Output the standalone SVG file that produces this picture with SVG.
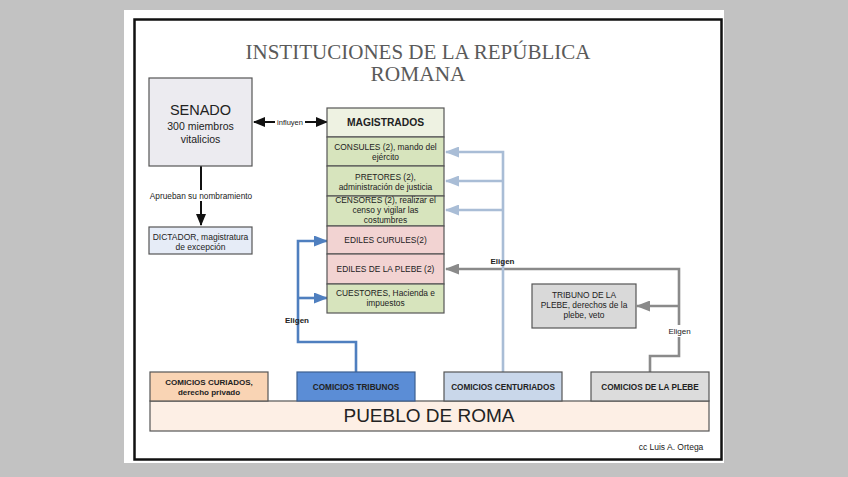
<svg xmlns="http://www.w3.org/2000/svg" width="848" height="477" viewBox="0 0 848 477">
<defs>
<style>
.t{font-family:"Liberation Sans",Arial,sans-serif;fill:#222;text-anchor:middle}
.b{font-weight:bold}
.box{stroke:#555;stroke-width:1.2}
.blk{stroke:#111;stroke-width:2;fill:none}
.blue{stroke:#4f7fbf;stroke-width:2.6;fill:none}
.lblue{stroke:#a9bdd6;stroke-width:2.6;fill:none}
.gray{stroke:#8a8a8a;stroke-width:2.6;fill:none}
</style>
<marker id="mk" markerUnits="userSpaceOnUse" markerWidth="12" markerHeight="10" refX="11" refY="5" orient="auto-start-reverse"><path d="M0,0 L12,5 L0,10 Z" fill="#111"/></marker>
<marker id="mb" markerUnits="userSpaceOnUse" markerWidth="14" markerHeight="11" refX="13" refY="5.5" orient="auto"><path d="M0,0 L14,5.5 L0,11 Z" fill="#4f7fbf"/></marker>
<marker id="ml" markerUnits="userSpaceOnUse" markerWidth="14" markerHeight="11" refX="13" refY="5.5" orient="auto"><path d="M0,0 L14,5.5 L0,11 Z" fill="#a9bdd6"/></marker>
<marker id="mg" markerUnits="userSpaceOnUse" markerWidth="14" markerHeight="11" refX="13" refY="5.5" orient="auto"><path d="M0,0 L14,5.5 L0,11 Z" fill="#8a8a8a"/></marker>
</defs>
<rect width="848" height="477" fill="#c2c2c2"/>
<rect x="124" y="10" width="600" height="453" fill="#fff"/>
<rect x="134.5" y="19.5" width="587" height="440" fill="none" stroke="#111" stroke-width="2.5"/>
<g id="title" font-family="'Liberation Serif','Times New Roman',serif" fill="#5a5a5a" text-anchor="middle">
<text x="418" y="59" font-size="21" textLength="345" lengthAdjust="spacingAndGlyphs">INSTITUCIONES DE LA REPÚBLICA</text>
<text x="418" y="81" font-size="21" textLength="95" lengthAdjust="spacingAndGlyphs">ROMANA</text>
</g>
<g id="connectors">
<line class="blk" x1="254" y1="122" x2="327" y2="122" marker-start="url(#mk)" marker-end="url(#mk)"/>
<rect x="275" y="117" width="30" height="10" fill="#fff"/>
<text class="t" x="290" y="125" font-size="7.5">influyen</text>
<line class="blk" x1="201" y1="166" x2="201" y2="225" marker-end="url(#mk)"/>
<rect x="150" y="190" width="102" height="11" fill="#fff"/>
<text class="t" x="201" y="199" font-size="8.3">Aprueban su nombramiento</text>
<polyline class="blue" points="356,372 356,342 298,342 298,241 327,241" marker-end="url(#mb)"/>
<polyline class="blue" points="298,298 327,298" marker-end="url(#mb)"/>
<text class="t b" x="297" y="323" font-size="8">Eligen</text>
<polyline class="gray" points="650,372 650,356 679,356 679,269 446,269" marker-end="url(#mg)"/>
<polyline class="gray" points="679,306 637,306" marker-end="url(#mg)"/>
<rect x="667" y="325" width="25" height="12" fill="#fff"/>
<text class="t" x="679.5" y="334" font-size="8" fill="#333">Eligen</text>
<polyline class="lblue" points="503,372 503,152 446,152" marker-end="url(#ml)"/>
<polyline class="lblue" points="503,181 446,181" marker-end="url(#ml)"/>
<polyline class="lblue" points="503,210 446,210" marker-end="url(#ml)"/>
<text class="t b" x="502.5" y="264" font-size="8">Eligen</text>
</g>
<g id="senado">
<rect class="box" x="149" y="78" width="103" height="88" fill="#ecebf0"/>
<text class="t" x="200.5" y="115" font-size="14.5">SENADO</text>
<text class="t" x="200.5" y="130" font-size="10.5" fill="#333">300 miembros</text>
<text class="t" x="200.5" y="143" font-size="10.5" fill="#333">vitalicios</text>
</g>
<g id="dictador">
<rect class="box" x="149" y="227" width="103" height="27" fill="#e6ecf7"/>
<text class="t" x="200.5" y="240" font-size="8.5">DICTADOR, magistratura</text>
<text class="t" x="200.5" y="250" font-size="8.5">de excepción</text>
</g>
<g id="magistrados">
<rect class="box" x="327" y="108" width="117" height="29" fill="#eef2e2"/>
<text class="t b" x="385.5" y="126" font-size="10.3">MAGISTRADOS</text>
</g>
<g id="consules">
<rect class="box" x="327" y="137" width="117" height="29" fill="#d7e4bd"/>
<text class="t" x="385.5" y="150" font-size="8.4">CONSULES (2), mando del</text>
<text class="t" x="385.5" y="160" font-size="8.4">ejército</text>
</g>
<g id="pretores">
<rect class="box" x="327" y="166" width="117" height="30" fill="#d7e4bd"/>
<text class="t" x="385.5" y="180" font-size="8.4">PRETORES (2),</text>
<text class="t" x="385.5" y="190" font-size="8.4">administración de justicia</text>
</g>
<g id="censores">
<rect class="box" x="327" y="196" width="117" height="30" fill="#d7e4bd"/>
<text class="t" x="385.5" y="203" font-size="8.4">CENSORES (2), realizar el</text>
<text class="t" x="385.5" y="213" font-size="8.4">censo y vigilar las</text>
<text class="t" x="385.5" y="222.5" font-size="8.4">costumbres</text>
</g>
<g id="ediles-curules">
<rect class="box" x="327" y="226" width="117" height="28" fill="#f2d3d2"/>
<text class="t" x="385.5" y="243" font-size="8.4">EDILES CURULES(2)</text>
</g>
<g id="ediles-plebe">
<rect class="box" x="327" y="254" width="117" height="30" fill="#f2d3d2"/>
<text class="t" x="385.5" y="272" font-size="8.4">EDILES DE LA PLEBE (2)</text>
</g>
<g id="cuestores">
<rect class="box" x="327" y="284" width="117" height="29" fill="#d7e4bd"/>
<text class="t" x="385.5" y="296" font-size="8.4">CUESTORES, Hacienda e</text>
<text class="t" x="385.5" y="306" font-size="8.4">impuestos</text>
</g>
<g id="tribuno">
<rect class="box" x="532" y="284" width="104" height="44" fill="#d9d9d9"/>
<text class="t" x="584" y="298" font-size="8.4">TRIBUNO DE LA</text>
<text class="t" x="584" y="308" font-size="8.4">PLEBE, derechos de la</text>
<text class="t" x="584" y="318" font-size="8.4">plebe, veto</text>
</g>
<g id="pueblo">
<rect class="box" x="150" y="401" width="559" height="30" fill="#fdefe5"/>
<text class="t" x="429" y="422" font-size="19">PUEBLO DE ROMA</text>
</g>
<g id="curiados">
<rect class="box" x="150" y="372" width="118" height="29" fill="#f9d4b4"/>
<text class="t b" x="209" y="385" font-size="8">COMICIOS CURIADOS,</text>
<text class="t b" x="209" y="395" font-size="8">derecho privado</text>
</g>
<g id="tribunos">
<rect x="297" y="372" width="118" height="29" fill="#5b8dd6" stroke="#3d5f8f" stroke-width="1.2"/>
<text class="t b" x="356" y="390" font-size="8.2">COMICIOS TRIBUNOS</text>
</g>
<g id="centuriados">
<rect class="box" x="444" y="372" width="118" height="29" fill="#c9d7ea"/>
<text class="t b" x="503" y="390" font-size="8.2">COMICIOS CENTURIADOS</text>
</g>
<g id="plebe">
<rect class="box" x="591" y="372" width="118" height="29" fill="#dcdcdc"/>
<text class="t b" x="650" y="390" font-size="8.2">COMICIOS DE LA PLEBE</text>
</g>
<text class="t" x="671" y="450" font-size="8.5">cc Luis A. Ortega</text>
</svg>
